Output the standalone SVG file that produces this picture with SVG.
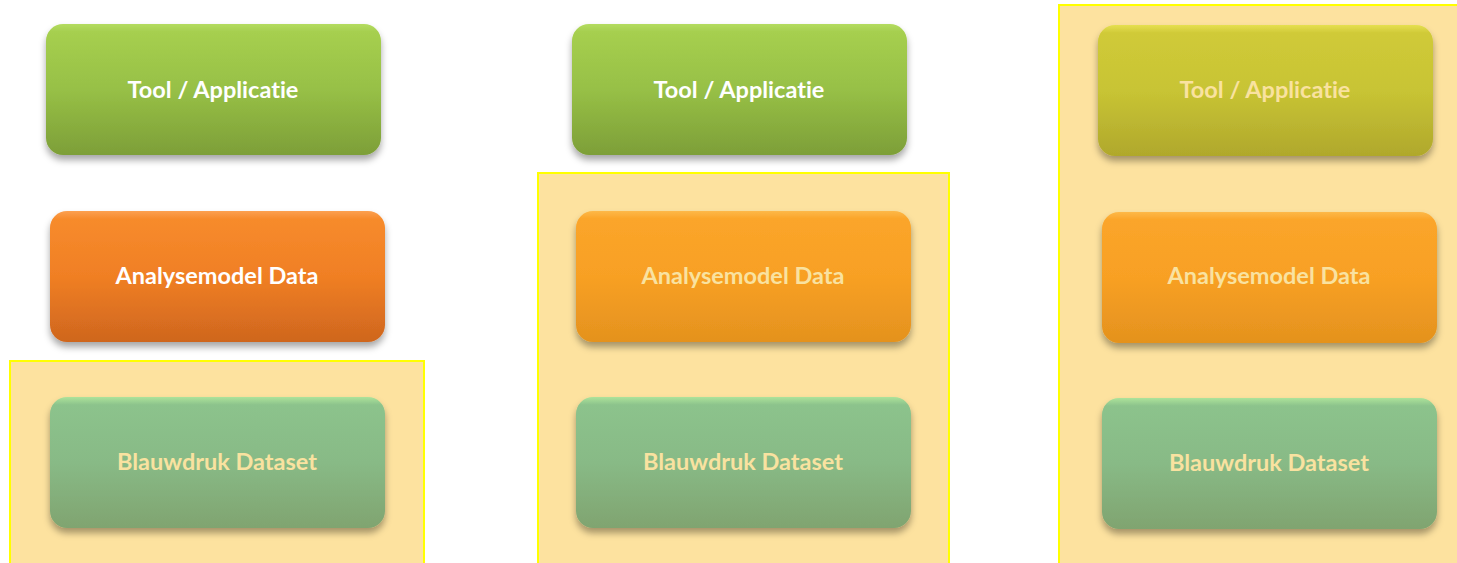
<svg xmlns="http://www.w3.org/2000/svg" width="1457" height="563" viewBox="0 0 1457 563">
<defs>
<linearGradient id="gGreen" x1="0" y1="0" x2="0" y2="1">
<stop offset="0" stop-color="#b4dc60"/><stop offset="0.06" stop-color="#a6cf4f"/><stop offset="0.5" stop-color="#97c046"/><stop offset="1" stop-color="#7d9f38"/>
</linearGradient>
<linearGradient id="gOlive" x1="0" y1="0" x2="0" y2="1">
<stop offset="0" stop-color="#e6e050"/><stop offset="0.06" stop-color="#d0ca38"/><stop offset="0.5" stop-color="#c8c434"/><stop offset="1" stop-color="#b0a82c"/>
</linearGradient>
<linearGradient id="gOrange" x1="0" y1="0" x2="0" y2="1">
<stop offset="0" stop-color="#fca050"/><stop offset="0.06" stop-color="#f78b2c"/><stop offset="0.5" stop-color="#f07f24"/><stop offset="1" stop-color="#cf661e"/>
</linearGradient>
<linearGradient id="gAmber" x1="0" y1="0" x2="0" y2="1">
<stop offset="0" stop-color="#fdb848"/><stop offset="0.06" stop-color="#fba52a"/><stop offset="0.5" stop-color="#f8a024"/><stop offset="1" stop-color="#e4921e"/>
</linearGradient>
<linearGradient id="gSage" x1="0" y1="0" x2="0" y2="1">
<stop offset="0" stop-color="#ade39a"/><stop offset="0.06" stop-color="#8cc38c"/><stop offset="0.5" stop-color="#88ba86"/><stop offset="1" stop-color="#80a470"/>
</linearGradient>
<filter id="sh" x="-10%" y="-10%" width="120%" height="135%">
<feDropShadow dx="0" dy="5" stdDeviation="3.5" flood-color="#000" flood-opacity="0.35"/>
</filter>
</defs>
<style>
.panel{fill:#fde29f;stroke:#ffff00;stroke-width:2}
.box{filter:url(#sh)}
.t{font-family:Lato,"Liberation Sans",sans-serif;font-weight:700;font-size:23.5px;text-anchor:middle;font-variant-ligatures:none}
.w{fill:#ffffff}
.p{fill:#f9e2a0}
</style>
<rect width="1457" height="563" fill="#ffffff"/>
<g id="panels">
<rect class="panel" x="10" y="361" width="414" height="206"/>
<rect class="panel" x="538" y="173" width="411" height="394"/>
<rect class="panel" x="1059" y="5" width="402" height="562"/>
</g>
<g id="col1-tool"><rect class="box" x="46" y="24" width="335" height="131" rx="17" fill="url(#gGreen)"/><text class="t w" x="213" y="98">Tool / Applicatie</text></g>
<g id="col1-analyse"><rect class="box" x="50" y="211" width="335" height="131" rx="17" fill="url(#gOrange)"/><text class="t w" x="217" y="284">Analysemodel Data</text></g>
<g id="col1-blauwdruk"><rect class="box" x="50" y="397" width="335" height="131" rx="17" fill="url(#gSage)"/><text class="t p" x="217" y="470">Blauwdruk Dataset</text></g>
<g id="col2-tool"><rect class="box" x="572" y="24" width="335" height="131" rx="17" fill="url(#gGreen)"/><text class="t w" x="739" y="98">Tool / Applicatie</text></g>
<g id="col2-analyse"><rect class="box" x="576" y="211" width="335" height="131" rx="17" fill="url(#gAmber)"/><text class="t p" x="743" y="284">Analysemodel Data</text></g>
<g id="col2-blauwdruk"><rect class="box" x="576" y="397" width="335" height="131" rx="17" fill="url(#gSage)"/><text class="t p" x="743" y="470">Blauwdruk Dataset</text></g>
<g id="col3-tool"><rect class="box" x="1098" y="25" width="335" height="131" rx="17" fill="url(#gOlive)"/><text class="t p" x="1265" y="98">Tool / Applicatie</text></g>
<g id="col3-analyse"><rect class="box" x="1102" y="212" width="335" height="131" rx="17" fill="url(#gAmber)"/><text class="t p" x="1269" y="284">Analysemodel Data</text></g>
<g id="col3-blauwdruk"><rect class="box" x="1102" y="398" width="335" height="131" rx="17" fill="url(#gSage)"/><text class="t p" x="1269" y="471">Blauwdruk Dataset</text></g>
<g id="connectors"/>
</svg>
